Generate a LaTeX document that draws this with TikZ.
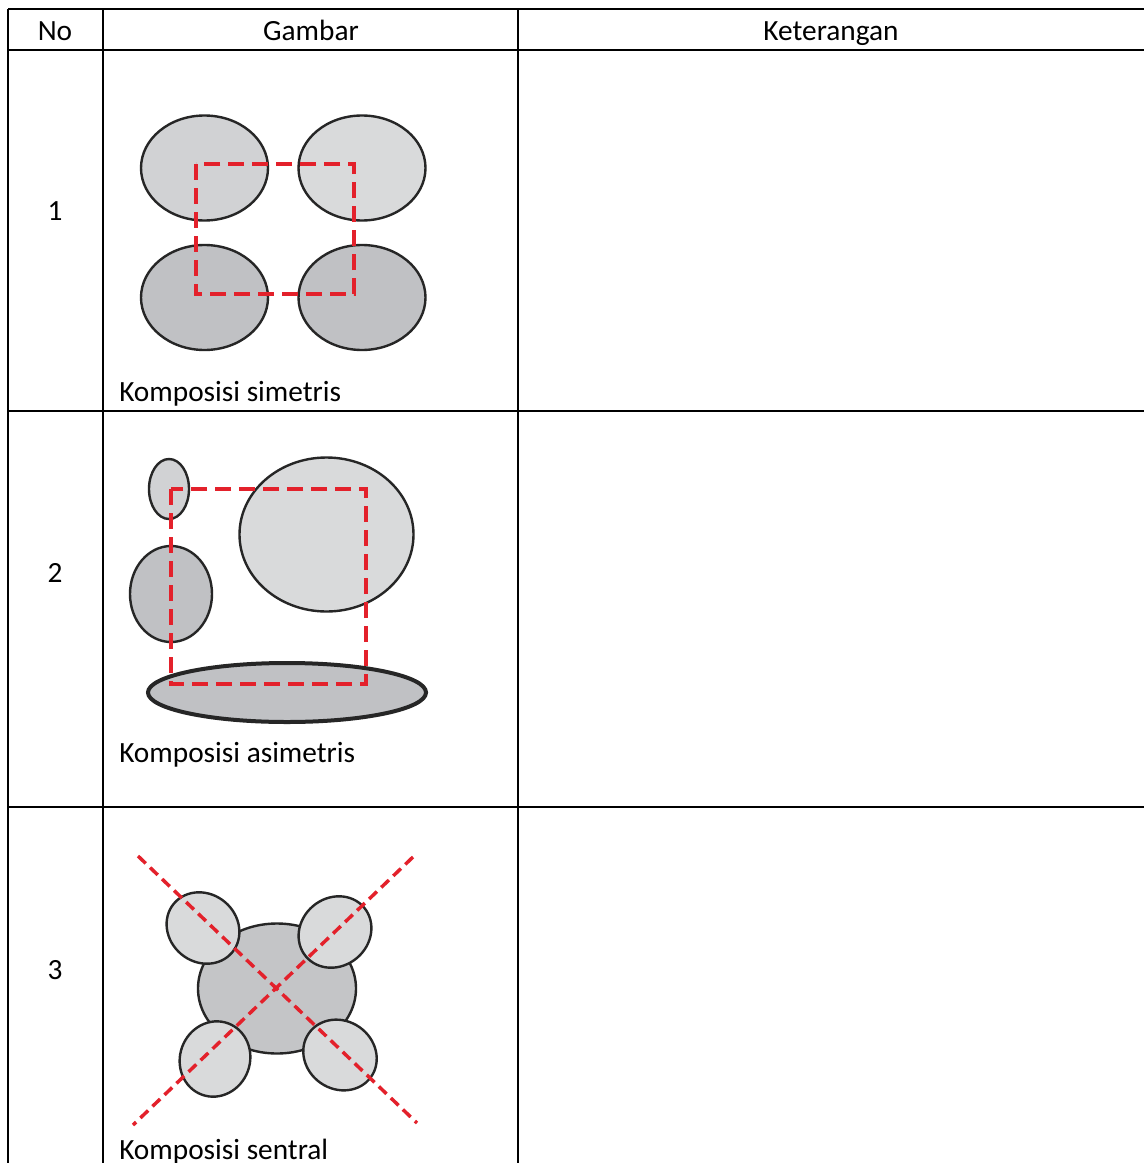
\documentclass[tikz,border=0pt]{standalone}
\usepackage{fontspec}
\setmainfont{Carlito}
\definecolor{gA}{HTML}{D1D2D4}
\definecolor{gB}{HTML}{D9DADB}
\definecolor{gC}{HTML}{C0C1C4}
\definecolor{gD}{HTML}{C4C5C7}
\definecolor{redd}{HTML}{E3212B}
\tikzset{
  grid/.style={line width=1.6pt},
  blob/.style={draw=black!85, line width=1.8pt},
  reddash/.style={draw=redd, line width=3.5pt, dash pattern=on 12pt off 6pt},
  redx/.style={draw=redd, line width=2.6pt, dash pattern=on 8pt off 4.5pt},
  txt/.style={font=\fontsize{22}{26}\selectfont, inner sep=0pt},
}
\begin{document}
\begin{tikzpicture}[x=0.75pt,y=-0.75pt]
\useasboundingbox (0,0) rectangle (1144,1163);
\clip (0,0) rectangle (1144,1163);
\fill[white] (0,0) rectangle (1144,1163);
% table
\draw[grid] (8,9) -- (1150,9);
\draw[grid] (8,50) -- (1150,50);
\draw[grid] (8,411) -- (1150,411);
\draw[grid] (8,807) -- (1150,807);
\draw[grid] (8,9) -- (8,1170);
\draw[grid] (103,9) -- (103,1170);
\draw[grid] (518,9) -- (518,1170);
% header
\node[txt, anchor=base] (hno) at (55,41) {No};
\node[txt, anchor=base] (hgb) at (311,41) {Gambar};
\node[txt, anchor=base] (hkt) at (831,41) {Keterangan};
\node[txt, anchor=base] (n1) at (55,220) {1};
\node[txt, anchor=base] (n2) at (55,582) {2};
\node[txt, anchor=base] (n3) at (55,979) {3};
% row 1
\draw[blob, fill=gA] (204.5,168) ellipse [x radius=63.5, y radius=52.5];
\draw[blob, fill=gB] (362,168) ellipse [x radius=63.5, y radius=52.5];
\draw[blob, fill=gC] (204.5,297.5) ellipse [x radius=63.5, y radius=52.5];
\draw[blob, fill=gC] (362,297.5) ellipse [x radius=63.5, y radius=52.5];
\draw[reddash] (196,164) rectangle (354,294);
\node[txt, anchor=base west] (c1) at (119,401) {Komposisi simetris};
% row 2
\draw[blob, fill=gA] (169,489) ellipse [x radius=20, y radius=30];
\draw[blob, fill=gC] (171,594) ellipse [x radius=41, y radius=48];
\draw[blob, fill=gB] (326.5,534.5) ellipse [x radius=87, y radius=77];
\draw[blob, line width=3pt, fill=gC] (287,692.5) ellipse [x radius=139, y radius=29.5];
\draw[reddash] (171,489) rectangle (366,684);
\node[txt, anchor=base west] (c2) at (119,762) {Komposisi asimetris};
% row 3
\draw[blob, fill=gD] (277,988.5) ellipse [x radius=79, y radius=65];
\draw[blob, fill=gB, rotate around={-40:(203,928)}] (203,928) ellipse [x radius=38, y radius=34];
\draw[blob, fill=gB, rotate around={40:(335,932)}] (335,932) ellipse [x radius=38, y radius=34];
\draw[blob, fill=gB, rotate around={70:(215,1059)}] (215,1059) ellipse [x radius=38, y radius=35];
\draw[blob, fill=gB, rotate around={-35:(340,1055)}] (340,1055) ellipse [x radius=38, y radius=34];
\coordinate (xa) at (138,856);
\coordinate (xb) at (417,1123);
\coordinate (xc) at (413,857);
\coordinate (xd) at (133,1125);
\draw[redx] (xa) -- (xb);
\draw[redx] (xc) -- (xd);
\node[txt, anchor=base west] (c3) at (119,1159) {Komposisi sentral};
\end{tikzpicture}
\end{document}
